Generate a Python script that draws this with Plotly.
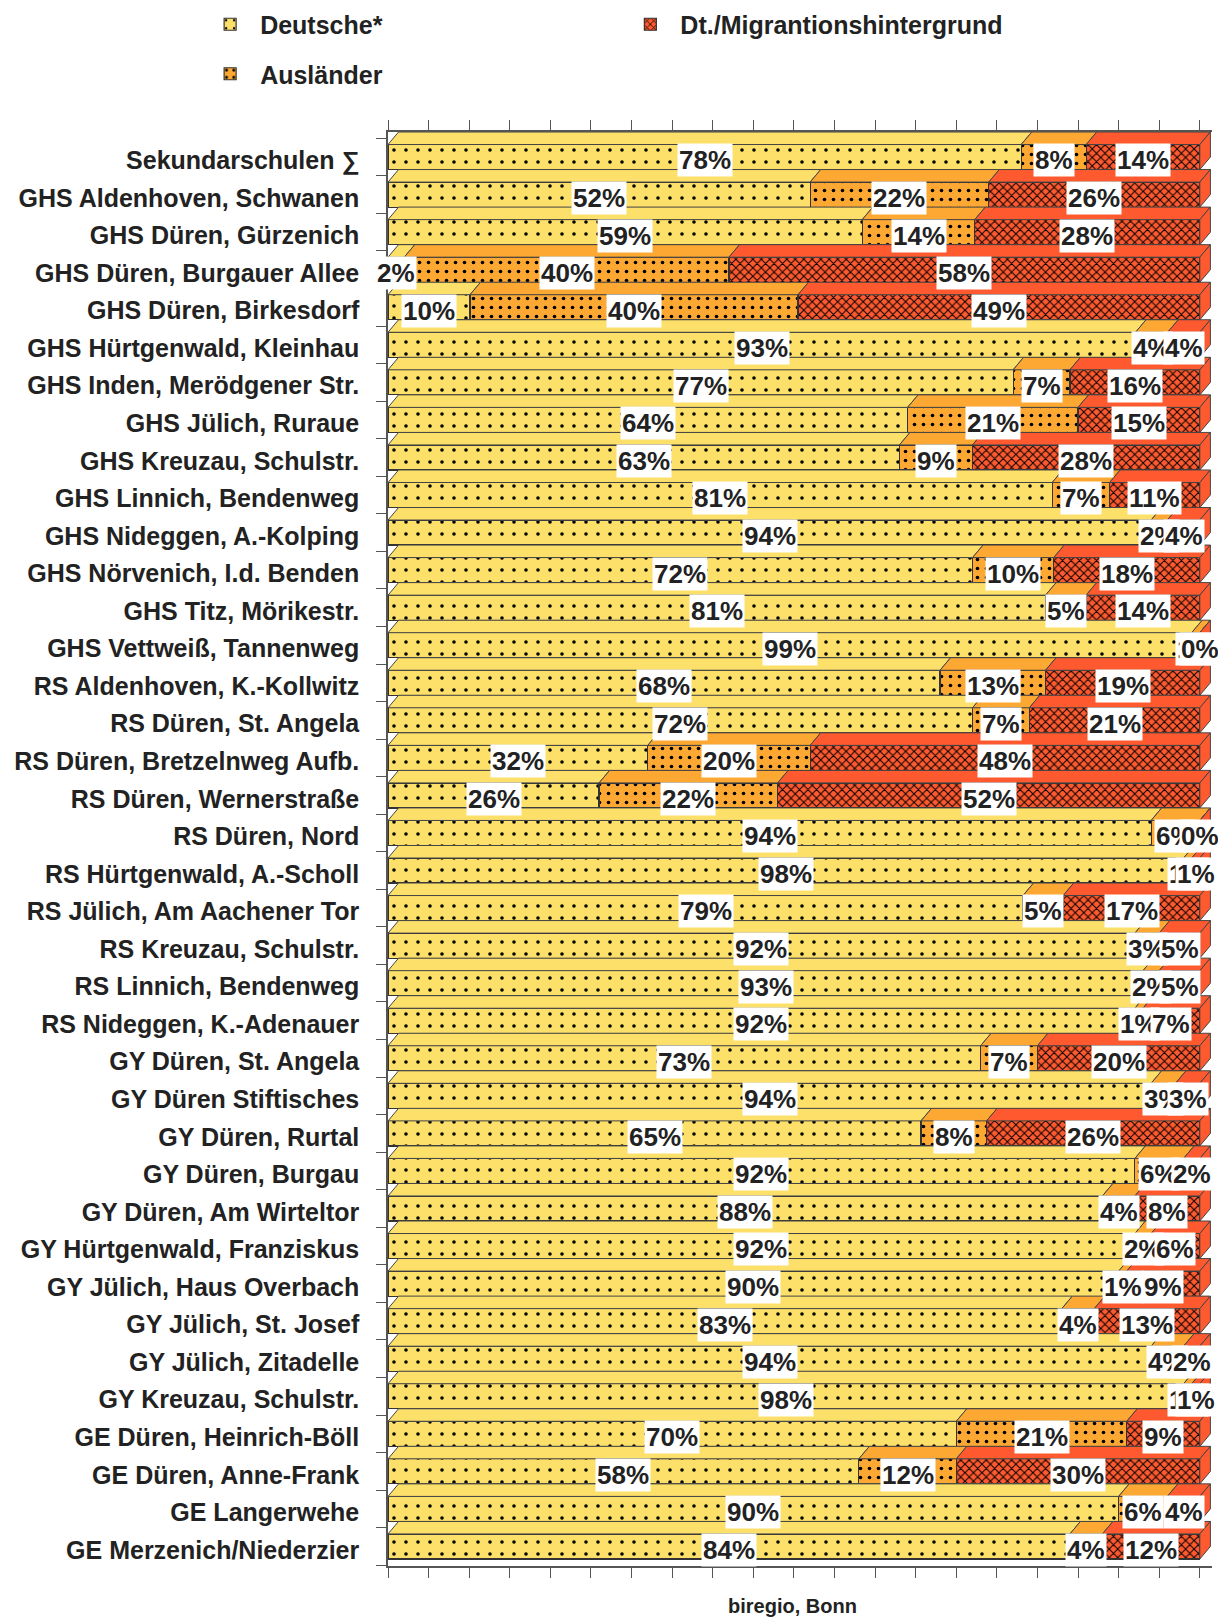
import plotly.graph_objects as go

categories = [
    "Sekundarschulen ∑", "GHS Aldenhoven, Schwanen", "GHS Düren, Gürzenich",
    "GHS Düren, Burgauer Allee", "GHS Düren, Birkesdorf", "GHS Hürtgenwald, Kleinhau",
    "GHS Inden, Merödgener Str.", "GHS Jülich, Ruraue", "GHS Kreuzau, Schulstr.",
    "GHS Linnich, Bendenweg", "GHS Nideggen, A.-Kolping", "GHS Nörvenich, I.d. Benden",
    "GHS Titz, Mörikestr.", "GHS Vettweiß, Tannenweg", "RS Aldenhoven, K.-Kollwitz",
    "RS Düren, St. Angela", "RS Düren, Bretzelnweg Aufb.", "RS Düren, Wernerstraße",
    "RS Düren, Nord", "RS Hürtgenwald, A.-Scholl", "RS Jülich, Am Aachener Tor",
    "RS Kreuzau, Schulstr.", "RS Linnich, Bendenweg", "RS Nideggen, K.-Adenauer",
    "GY Düren, St. Angela", "GY Düren Stiftisches", "GY Düren, Rurtal",
    "GY Düren, Burgau", "GY Düren, Am Wirteltor", "GY Hürtgenwald, Franziskus",
    "GY Jülich, Haus Overbach", "GY Jülich, St. Josef", "GY Jülich, Zitadelle",
    "GY Kreuzau, Schulstr.", "GE Düren, Heinrich-Böll", "GE Düren, Anne-Frank",
    "GE Langerwehe", "GE Merzenich/Niederzier",
]
deutsche = [78, 52, 59, 2, 10, 93, 77, 64, 63, 81, 94, 72, 81, 99, 68, 72, 32, 26, 94, 98,
            79, 92, 93, 92, 73, 94, 65, 92, 88, 92, 90, 83, 94, 98, 70, 58, 90, 84]
auslaender = [8, 22, 14, 40, 40, 4, 7, 21, 9, 7, 2, 10, 5, 1, 13, 7, 20, 22, 6, 1,
              5, 3, 2, 1, 7, 3, 8, 6, 4, 2, 1, 4, 4, 1, 21, 12, 6, 4]
migration = [14, 26, 28, 58, 49, 4, 16, 15, 28, 11, 4, 18, 14, 0, 19, 21, 48, 52, 0, 1,
             17, 5, 5, 7, 20, 3, 26, 2, 8, 6, 9, 13, 2, 1, 9, 30, 4, 12]

series_names = ["Deutsche*", "Ausländer", "Dt./Migrantionshintergrund"]
series_values = [deutsche, auslaender, migration]
colors = ["#FDE06A", "#FCA832", "#FF5A2F"]
patterns = [dict(shape=".", size=12, solidity=0.07),
            dict(shape=".", size=9, solidity=0.13),
            dict(shape="x", size=6, solidity=0.3)]
legends = ["legend", "legend", "legend2"]

FONT = "Liberation Sans, Arial, sans-serif"
TXT = "#222222"
n = len(categories)
ypos = list(range(n))
H = 0.3335      # half height of front face (axis units)
D = 0.3335      # depth of top face (axis units)
DX = 1.3        # horizontal depth offset (x units)
LBL = 0.09      # text sits slightly below the bar centre

fig = go.Figure()

totals = [sum(v[i] for v in series_values) for i in range(n)]
starts = []
cum = [0.0] * n
for v in series_values:
    s = []
    for i in range(n):
        s.append(cum[i])
        cum[i] += v[i] / totals[i] * 100
    starts.append(s)

for k, (name, vals) in enumerate(zip(series_names, series_values)):
    fig.add_trace(go.Bar(
        y=ypos, x=vals, name=name, orientation="h", width=2 * H,
        marker=dict(color=colors[k], line=dict(color="#333333", width=1.2),
                    pattern=dict(fgcolor="#000000", bgcolor=colors[k],
                                 fillmode="replace", **patterns[k])),
        legend=legends[k], legendgroup=name, hoverinfo="x+y+name",
    ))

# 3D top faces derived from the stacked data
for k, vals in enumerate(series_values):
    px, py = [], []
    for i in range(n):
        x0 = starts[k][i]
        x1 = x0 + vals[i] / totals[i] * 100
        yb = i - H
        yt = i - H - D
        px += [x0, x1, x1 + DX, x0 + DX, x0, None]
        py += [yb, yb, yt, yt, yb, None]
    fig.add_trace(go.Scatter(x=px, y=py, mode="lines", fill="toself",
                             fillcolor=colors[k], line=dict(color="#444444", width=1),
                             showlegend=False, hoverinfo="skip"))

# right side faces
sx, sy = [], []
for i in range(n):
    sx += [100, 100, 100 + DX, 100 + DX, 100, None]
    sy += [i + H, i - H, i - H - D, i + H - D, i + H, None]
fig.add_trace(go.Scatter(x=sx, y=sy, mode="lines", fill="toself",
                         fillcolor=colors[2], line=dict(color="#444444", width=1),
                         showlegend=False, hoverinfo="skip"))

annotations = []
for k, vals in enumerate(series_values):
    for i in range(n):
        xc = starts[k][i] + vals[i] / totals[i] * 100 / 2
        annotations.append(dict(
            x=xc, y=i + LBL, xref="x", yref="y", text=f"{vals[i]}%", showarrow=False,
            font=dict(family=FONT, size=26, color=TXT, weight="bold"),
            bgcolor="#FFFFFF", borderpad=1, xanchor="center", yanchor="middle",
        ))
annotations.append(dict(
    x=0.4915, y=-0.028, xref="paper", yref="paper", text="biregio, Bonn",
    showarrow=False, font=dict(family=FONT, size=20, color=TXT, weight="bold"),
    xanchor="center", yanchor="middle",
))

legend_font = dict(family=FONT, size=25, color=TXT, weight="bold")
# the page body adds an 8px margin; size and margins compensate for it
fig.update_layout(
    width=1218, height=1612,
    margin=dict(l=380, r=14, t=124, b=54, autoexpand=False),
    paper_bgcolor="white", plot_bgcolor="white",
    barmode="stack", barnorm="percent",
    showlegend=True,
    legend=dict(orientation="v", x=-0.228, y=1.091, xanchor="left", yanchor="top",
                traceorder="grouped", tracegroupgap=14, font=legend_font,
                itemwidth=50, bgcolor="rgba(0,0,0,0)"),
    legend2=dict(orientation="v", x=0.282, y=1.091, xanchor="left", yanchor="top",
                 font=legend_font, itemwidth=50, bgcolor="rgba(0,0,0,0)"),
    annotations=annotations,
    font=dict(family=FONT, color=TXT),
)
fig.update_xaxes(range=[0, 101.5], showgrid=False, zeroline=False,
                 showticklabels=False, tick0=0, dtick=5, ticks="outside",
                 ticklen=10, tickcolor="#555555", showline=True,
                 linecolor="#555555", linewidth=1.5, mirror="ticks")
fig.update_yaxes(range=[37.52, -0.667], showgrid=False, zeroline=False,
                 automargin=False,
                 tickmode="array", tickvals=[p + LBL for p in ypos], ticktext=categories,
                 ticks="", ticklabelstandoff=22,
                 tickfont=dict(family=FONT, size=25, color=TXT, weight="bold"),
                 showline=True, linecolor="#555555", linewidth=1.5,
                 minor=dict(tick0=-0.5, dtick=1, ticks="outside", ticklen=10,
                            tickcolor="#555555", showgrid=False))

fig.write_html("out.html")
